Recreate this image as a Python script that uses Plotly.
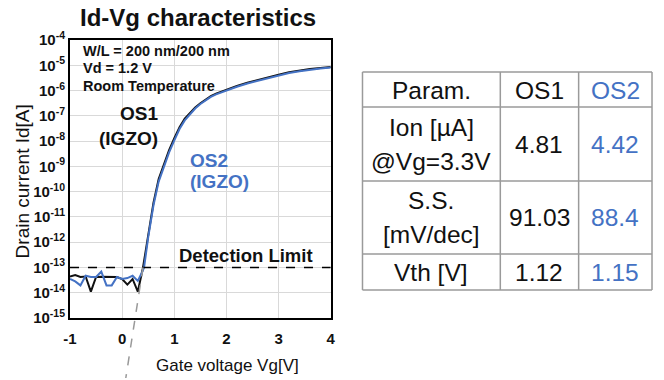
import plotly.graph_objects as go

# ---------------- data ----------------
vg_os1 = [-1.0, -0.9, -0.8, -0.7, -0.6, -0.5, -0.4, -0.3, -0.2, -0.1, 0.0, 0.1, 0.2, 0.3,
          0.4, 0.5, 0.6, 0.7, 0.8, 0.9, 1.0, 1.1, 1.2, 1.3, 1.4, 1.5, 1.6, 1.7, 1.8,
          2.0, 2.2, 2.4, 2.6, 2.8, 3.0, 3.2, 3.4, 3.6, 3.8, 4.0]
id_os1 = [4.4e-14, 5.0e-14, 4.2e-14, 4.4e-14, 1.1e-14, 4.2e-14, 4.3e-14, 4.2e-14, 4.2e-14, 4.2e-14,
          3.5e-14, 2.1e-14, 3.5e-14, 1.1e-14,
          1.0e-13, 2.0e-12, 3.55e-11, 3.16e-10, 1.26e-9, 4.37e-9, 1.32e-8, 3.55e-8, 7.76e-8, 1.32e-7,
          2.14e-7, 3.16e-7, 4.47e-7, 6.03e-7, 7.59e-7,
          1.10e-6, 1.51e-6, 2.04e-6, 2.63e-6, 3.39e-6, 4.27e-6, 5.25e-6, 6.17e-6, 7.08e-6, 7.76e-6, 8.51e-6]

vg_os2 = [-1.0, -0.9, -0.8, -0.7, -0.6, -0.5, -0.4, -0.3, -0.2, -0.1, 0.0, 0.1, 0.2, 0.3, 0.38,
          0.42, 0.5, 0.6, 0.7, 0.8, 0.9, 1.0, 1.1, 1.2, 1.3, 1.4, 1.5, 1.6, 1.7, 1.8,
          2.0, 2.2, 2.4, 2.6, 2.8, 3.0, 3.2, 3.4, 3.6, 3.8, 4.0]
id_os2 = [3.5e-14, 2.8e-14, 1.95e-14, 4.7e-14, 4.2e-14, 4.2e-14, 6.9e-14, 1.95e-14, 1.95e-14, 4.2e-14,
          3.5e-14, 3.8e-14, 4.7e-14, 2.95e-14, 6.3e-14,
          1.0e-13, 1.58e-12, 2.82e-11, 2.51e-10, 1.0e-9, 3.55e-9, 1.07e-8, 3.02e-8, 6.61e-8, 1.17e-7,
          1.95e-7, 2.95e-7, 4.17e-7, 5.62e-7, 7.08e-7,
          1.02e-6, 1.41e-6, 1.91e-6, 2.45e-6, 3.16e-6, 3.98e-6, 4.90e-6, 5.75e-6, 6.61e-6, 7.41e-6, 8.13e-6]

detection_limit = 1e-13
# extrapolated subthreshold line (Vg at detection limit -> Vg at lower end)
extrap_vg = [0.40, 0.07]

y_exponents = [-15, -14, -13, -12, -11, -10, -9, -8, -7, -6, -5, -4]
x_ticks = [-1, 0, 1, 2, 3, 4]

table_header = ["Param.", "OS1", "OS2"]
param_labels = [["Ion [µA]", "@Vg=3.3V"], ["S.S.", "[mV/dec]"], ["Vth [V]"]]
os1_values = ["4.81", "91.03", "1.12"]
os2_values = ["4.42", "88.4", "1.15"]

# ---------------- layout constants ----------------
W, H = 664, 380
ML, MR, MT, MB = 70, 6, 40, 62
PW, PH = W - ML - MR, H - MT - MB
PLOT_RIGHT = 333

def px_x(px):
    return (px - ML) / PW

def px_y(py):
    return (H - MB - py) / PH

BLUE = "#4472C4"
FONT = "Liberation Sans, Arial, sans-serif"

fig = go.Figure()
fig.add_trace(go.Scatter(x=vg_os1, y=id_os1, mode="lines", line=dict(color="#111111", width=2),
                         name="OS1", showlegend=False))
fig.add_trace(go.Scatter(x=vg_os2, y=id_os2, mode="lines", line=dict(color=BLUE, width=2),
                         name="OS2", showlegend=False))

ymin, ymax = y_exponents[0], y_exponents[-1]

fig.update_layout(
    width=W, height=H,
    margin=dict(l=ML, r=MR, t=MT, b=MB),
    paper_bgcolor="white", plot_bgcolor="white",
    font=dict(family=FONT, color="#111111"),
    xaxis=dict(domain=[0, px_x(PLOT_RIGHT)], range=[-1, 4], tickvals=x_ticks,
               ticktext=[str(v) for v in x_ticks],
               showgrid=True, gridcolor="#d9d9d9", gridwidth=1,
               showline=True, linecolor="black", linewidth=2, mirror=True,
               ticks="", zeroline=False, ticklabelstandoff=6,
               tickfont=dict(size=15, weight="bold", color="#111111")),
    yaxis=dict(type="log", range=[ymin, ymax], tickvals=[10.0 ** e for e in y_exponents],
               ticktext=["10<sup>%d</sup>" % e for e in y_exponents],
               showgrid=True, gridcolor="#d9d9d9", gridwidth=1,
               showline=True, linecolor="black", linewidth=2, mirror=True,
               ticks="", zeroline=False,
               tickfont=dict(size=15, weight="bold", color="#111111")),
)

# detection limit line
fig.add_shape(type="line", xref="x", yref="y", x0=-1, x1=4, y0=detection_limit, y1=detection_limit,
              line=dict(color="black", width=1.5, dash="dash"))
# extrapolation dashed gray line
y_det_paper = (-13 - ymin) / (ymax - ymin)
fig.add_shape(type="line", xref="x", yref="paper", x0=extrap_vg[0], x1=extrap_vg[1],
              y0=y_det_paper, y1=px_y(378),
              line=dict(color="#999999", width=1.5, dash="dash"))

def ann(text, x, y, size, bold=False, color="#111111", xanchor="center", angle=0):
    fig.add_annotation(text=text, xref="paper", yref="paper", x=x, y=y, showarrow=False,
                       xanchor=xanchor, yanchor="middle", textangle=angle,
                       font=dict(family=FONT, size=size, color=color,
                                 weight="bold" if bold else "normal"))

ann("Id-Vg characteristics", px_x(199), px_y(17), 24, bold=True)
ann("Drain current Id[A]", px_x(22), px_y(181), 19, angle=-90)
ann("Gate voltage Vg[V]", px_x(229), px_y(365), 17)

ann("W/L = 200 nm/200 nm", px_x(81), px_y(51), 14.5, bold=True, xanchor="left")
ann("Vd = 1.2 V", px_x(81), px_y(68), 14.5, bold=True, xanchor="left")
ann("Room Temperature", px_x(81), px_y(86), 14.5, bold=True, xanchor="left")
ann("OS1", px_x(161), px_y(113), 19, bold=True, xanchor="right")
ann("(IGZO)", px_x(161), px_y(138), 19, bold=True, xanchor="right")
ann("OS2", px_x(189), px_y(160), 19, bold=True, color=BLUE, xanchor="left")
ann("(IGZO)", px_x(189), px_y(182), 19, bold=True, color=BLUE, xanchor="left")
ann("Detection Limit", px_x(247.5), px_y(255), 18.5, bold=True)

# ---------------- table ----------------
col_edges = [365, 504, 583, 657]
row_edges = [72, 107, 181, 254, 290]
TBL_FONT = 24.5
LINE_GAP = 34
GRAY = "#9a9a9a"
for cx in col_edges:
    fig.add_shape(type="line", xref="paper", yref="paper", x0=px_x(cx), x1=px_x(cx),
                  y0=px_y(row_edges[0]), y1=px_y(row_edges[-1]), line=dict(color=GRAY, width=1.5))
for ry in row_edges:
    fig.add_shape(type="line", xref="paper", yref="paper", x0=px_x(col_edges[0]), x1=px_x(col_edges[-1]),
                  y0=px_y(ry), y1=px_y(ry), line=dict(color=GRAY, width=1.5))

col_centers = [(col_edges[i] + col_edges[i + 1]) / 2 for i in range(3)]
row_centers = [(row_edges[i] + row_edges[i + 1]) / 2 for i in range(4)]
col_colors = ["#111111", "#111111", BLUE]

for j, t in enumerate(table_header):
    ann(t, px_x(col_centers[j]), px_y(row_centers[0] + 1), TBL_FONT, color=col_colors[j])
for i in range(3):
    rc = row_centers[i + 1]
    lines = param_labels[i]
    n = len(lines)
    for k, ln in enumerate(lines):
        yy = rc + (k - (n - 1) / 2) * LINE_GAP
        ann(ln, px_x(col_centers[0]), px_y(yy), TBL_FONT, color=col_colors[0])
    ann(os1_values[i], px_x(col_centers[1]), px_y(rc), TBL_FONT, color=col_colors[1])
    ann(os2_values[i], px_x(col_centers[2]), px_y(rc), TBL_FONT, color=col_colors[2])

fig.write_html("out.html")
